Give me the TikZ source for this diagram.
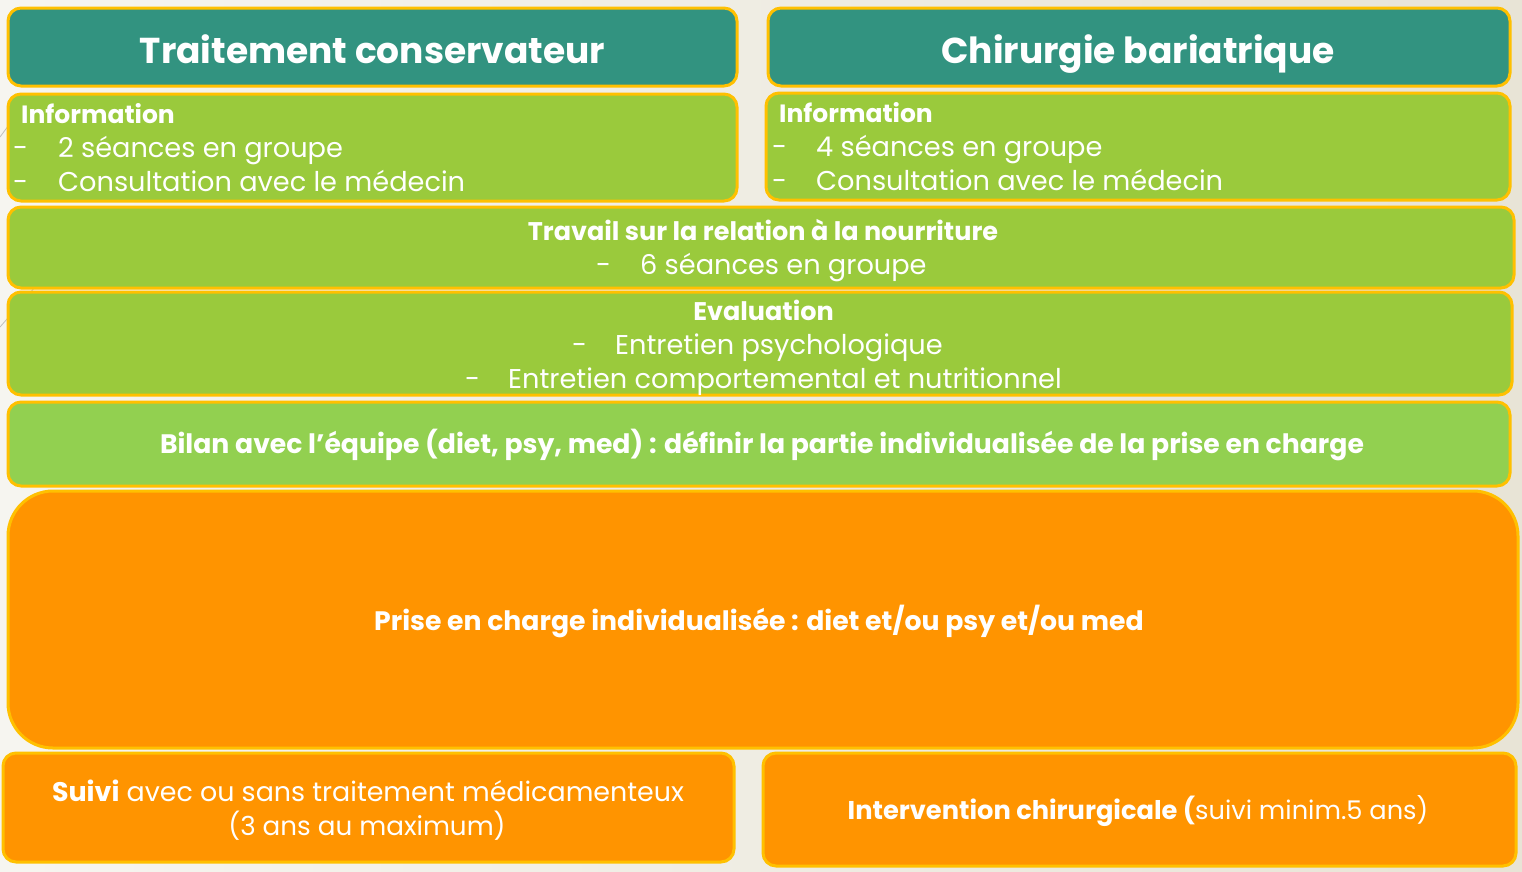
\documentclass[tikz,border=0pt]{standalone}
\usepackage{fontspec}
\setmainfont{Poppins}
\definecolor{teal1}{HTML}{329380}
\definecolor{green1}{HTML}{9ACA3C}
\definecolor{green2}{HTML}{92D050}
\definecolor{orange1}{HTML}{FF9400}
\definecolor{gold1}{HTML}{FFC000}
\definecolor{bgl}{HTML}{F6F5F0}
\definecolor{bgr}{HTML}{E8E4D6}
\newcommand{\fsz}[1]{\fontsize{#1}{#1}\selectfont}
\tikzset{
  box/.style={draw=gold1, line width=3pt, rounded corners=13pt, inner sep=0pt},
  tealbox/.style={box, fill=teal1},
  greenbox/.style={box, fill=green1},
  lgreenbox/.style={box, fill=green2},
  orangebox/.style={box, fill=orange1},
  headtxt/.style={text=white, font=\bfseries\fsz{36}, inner sep=0pt},
  btxt/.style={text=white, font=\bfseries\fsz{25}, inner sep=0pt},
  rtxt/.style={text=white, font=\fsz{27.2}, inner sep=0pt},
}
\begin{document}
\begin{tikzpicture}[x=1pt,y=-1pt]
\useasboundingbox (0,0) rectangle (1522,871);
\shade[left color=bgl, right color=bgr] (0,0) rectangle (1522,871);
\draw[gray!50, line width=0.8pt] (0,137) -- (14,118);
\draw[gray!50, line width=0.8pt] (0,327) -- (36,286);
% boxes
\node[tealbox, minimum width=729pt, minimum height=78pt] (h1) at (372.5,47) {};
\node[tealbox, minimum width=742pt, minimum height=78pt] (h2) at (1139,47) {};
\node[greenbox, minimum width=729pt, minimum height=107pt] (i1) at (372.5,147.5) {};
\node[greenbox, minimum width=744pt, minimum height=107pt] (i2) at (1138,146.5) {};
\node[greenbox, minimum width=1506pt, minimum height=81pt] (tr) at (761,247.5) {};
\node[greenbox, minimum width=1504pt, minimum height=103pt] (ev) at (760,343.5) {};
\node[lgreenbox, minimum width=1502pt, minimum height=84pt] (bi) at (759,444) {};
\node[orangebox, rounded corners=45pt, minimum width=1510pt, minimum height=257pt] (pr) at (763,619.5) {};
\node[orangebox, minimum width=731pt, minimum height=109pt] (su) at (368.5,807.5) {};
\node[orangebox, minimum width=753pt, minimum height=113pt] (in) at (1139.5,809.5) {};
% texts
\node[headtxt, anchor=base] (t1) at (372.5,63) {Traitement conservateur};
\node[headtxt, anchor=base] (t2) at (1138,63) {Chirurgie bariatrique};
\node[btxt, anchor=base west] (i1a) at (21,123) {Information};
\node[rtxt, anchor=base west] (i1b) at (13,157) {-};
\node[rtxt, anchor=base west] (i1c) at (58,157) {2 séances en groupe};
\node[rtxt, anchor=base west] (i1d) at (13,191) {-};
\node[rtxt, anchor=base west] (i1e) at (58,191) {Consultation avec le médecin};
\node[btxt, anchor=base west] (i2a) at (779,122) {Information};
\node[rtxt, anchor=base west] (i2b) at (772,156) {-};
\node[rtxt, anchor=base west] (i2c) at (816,156) {4 séances en groupe};
\node[rtxt, anchor=base west] (i2d) at (772,190) {-};
\node[rtxt, anchor=base west] (i2e) at (816,190) {Consultation avec le médecin};
\node[btxt, font=\bfseries\fsz{25.5}, anchor=base] (tra) at (763,240) {Travail sur la relation à la nourriture};
\node[rtxt, anchor=base west] (trb) at (596,274) {-};
\node[rtxt, anchor=base west] (trc) at (640,274) {6 séances en groupe};
\node[btxt, font=\bfseries\fsz{25.5}, anchor=base] (eva) at (763.5,320) {Evaluation};
\node[rtxt, anchor=base west] (evb) at (572,354) {-};
\node[rtxt, anchor=base west] (evc) at (615,354) {Entretien psychologique};
\node[rtxt, anchor=base west] (evd) at (465,388) {-};
\node[rtxt, anchor=base west] (eve) at (508,388) {Entretien comportemental et nutritionnel};
\node[btxt, font=\bfseries\fsz{26.7}, anchor=base] (bit) at (762,453) {Bilan avec l’équipe (diet, psy, med) : définir la partie individualisée de la prise en charge};
\node[btxt, font=\bfseries\fsz{26.7}, anchor=base] (prt) at (759,630) {Prise en charge individualisée : diet et/ou psy et/ou med};
\node[rtxt, font=\fsz{26.9}, anchor=base] (sua) at (368,801) {\textbf{Suivi} avec ou sans traitement médicamenteux};
\node[rtxt, font=\fsz{26.2}, anchor=base] (sub) at (367,835) {(3 ans au maximum)};
\node[rtxt, font=\fsz{25.7}, anchor=base] (int) at (1138,819) {\textbf{Intervention chirurgicale (}suivi minim.5 ans)};
\end{tikzpicture}
\end{document}
